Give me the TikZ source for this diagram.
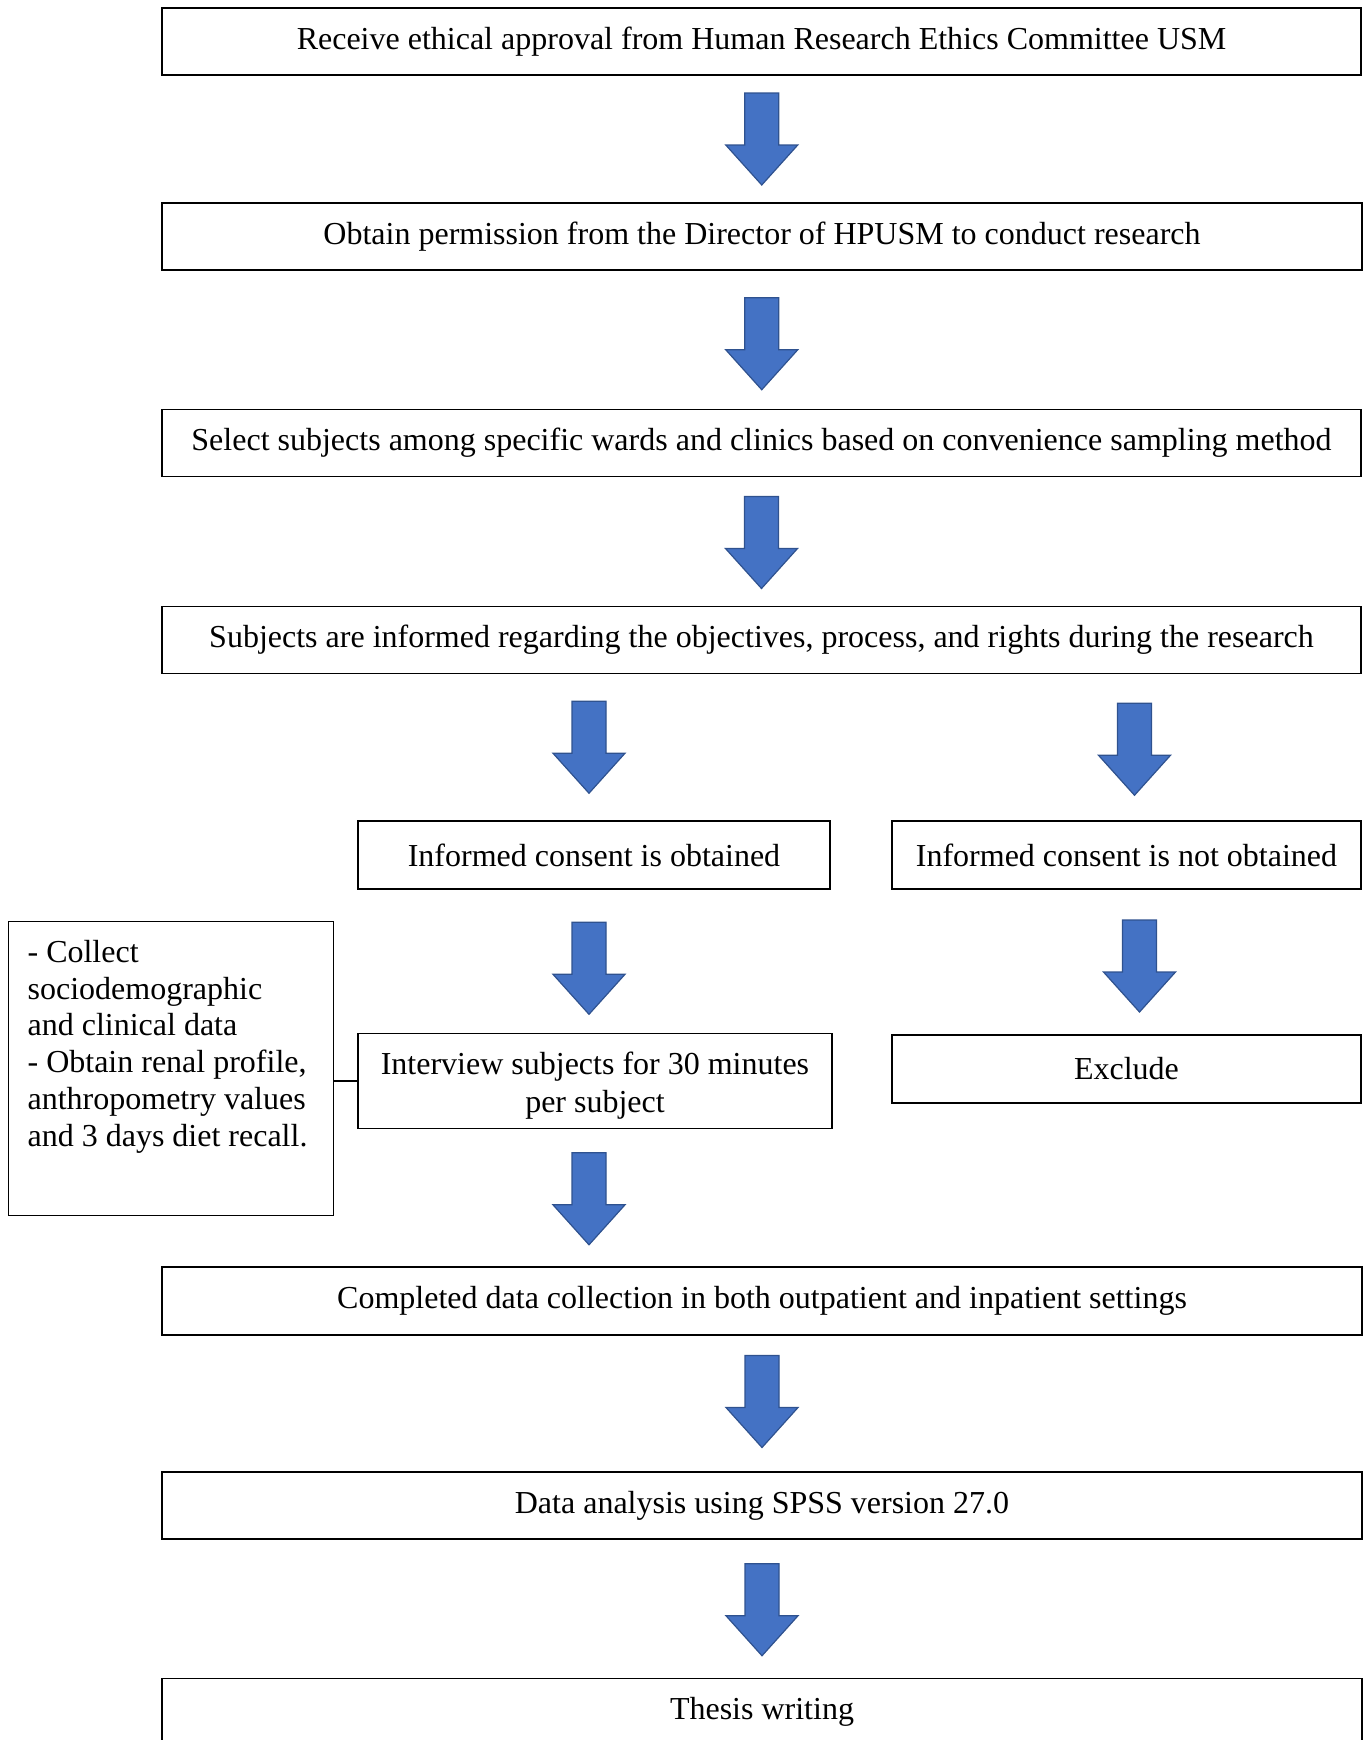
\documentclass[tikz,border=0pt]{standalone}
\usepackage{fontspec}
\setmainfont{Liberation Serif}
\usetikzlibrary{calc}
\definecolor{arrowblue}{HTML}{4472C4}
\definecolor{arrowedge}{HTML}{2F528F}
\tikzset{
  stepbox/.style={draw=black, line width=0.6pt, minimum height=33.5pt, inner sep=2pt, font=\fontsize{16}{18.4}\selectfont},
  fatarrow/.pic={\draw[fill=arrowblue, draw=arrowedge, line width=0.6pt] (-17,-46) -- (17,-46) -- (17,6) -- (36,6) -- (0,46) -- (-36,6) -- (-17,6) -- cycle;}
}
\begin{document}
\begin{tikzpicture}[x=0.5pt,y=-0.5pt]
\useasboundingbox (0,0) rectangle (1368,1740);
% main column
\node[stepbox, minimum width=599.5pt] (b1) at (761.5,41.5) {Receive ethical approval from Human Research Ethics Committee USM};
\node[stepbox, minimum width=600pt] (b2) at (762,236.5) {Obtain permission from the Director of HPUSM to conduct research};
\node[stepbox, minimum width=599.5pt] (b3) at (761.5,443) {Select subjects among specific wards and clinics based on convenience sampling method};
\node[stepbox, minimum width=599.5pt] (b4) at (761.5,640) {Subjects are informed regarding the objectives, process, and rights during the research};
% the two branches
\node[stepbox, minimum width=236pt, minimum height=34pt] (b5) at (594,855) {Informed consent is obtained};
\node[stepbox, minimum width=234.5pt, minimum height=34pt] (b6) at (1126.5,855) {Informed consent is not obtained};
\node[stepbox, anchor=north west, inner xsep=9.5pt, inner ysep=9.25pt] (b7) at (8,921) {\parbox[t][128.5pt][t]{143.5pt}{\raggedright - Collect\\ sociodemographic\\ and clinical data\\ - Obtain renal profile,\\ anthropometry values\\ and 3 days diet recall.}};
\node[stepbox, anchor=north, inner xsep=2pt, inner ysep=9.2pt, font=\fontsize{16}{18.9}\selectfont] (b8) at (595,1033) {\parbox[t][29.1pt][t]{233pt}{\centering Interview subjects for 30 minutes\\ per subject}};
\node[stepbox, minimum width=234.5pt, minimum height=34pt] (b9) at (1126.5,1069) {Exclude};
\node[stepbox, minimum width=600pt, minimum height=34pt] (b10) at (762,1301) {Completed data collection in both outpatient and inpatient settings};
\node[stepbox, minimum width=600pt] (b11) at (762,1505.5) {Data analysis using SPSS version 27.0};
\node[stepbox, minimum width=600pt] (b12) at (762,1712) {Thesis writing};
\draw[line width=1pt] (b7.east |- b8.west) -- (b8.west);
\foreach \a/\b/\dy in {b1/b2/0, b2/b3/4, b3/b4/1, b10/b11/-2, b11/b12/1} % main column arrows
\path ($(\a.south)!0.5!(\b.north)$) ++(0,\dy) pic {fatarrow};
\foreach \a/\b/\c/\dx/\dy in {b4/b5/b5/-5/0, b4/b6/b6/8/2, b5/b8/b5/-5/7, b6/b9/b9/13/4, b8/b10/b8/-6/1} % branch arrows
{\coordinate (m) at ($(\a.south)!0.5!(\b.north)$);
\path (m -| \c) ++(\dx,\dy) pic {fatarrow};}
\end{tikzpicture}
\end{document}
